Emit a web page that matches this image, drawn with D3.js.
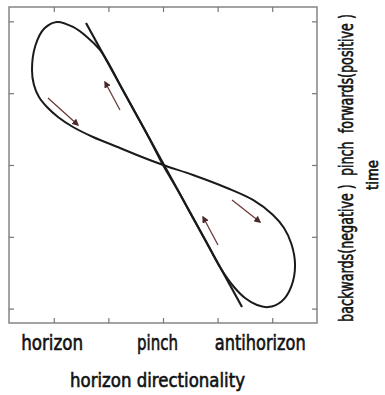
<!DOCTYPE html>
<html>
<head>
<meta charset="utf-8">
<script src="https://cdn.jsdelivr.net/npm/d3@7"></script>
<style>
  html, body { margin: 0; padding: 0; background: #fff; }
  svg { display: block; }
  text { font-family: "DejaVu Sans Condensed", "DejaVu Sans", sans-serif; fill: #111; stroke: #111; stroke-width: 0.6px; white-space: pre; }
</style>
</head>
<body>
<svg id="chart" width="385" height="395"></svg>
<script>
// Horizon directionality (x) vs. time (y): a figure-eight trajectory
const loopX = [0, -0.264, -0.515, -0.757, -0.971, -1.154, -1.392, -1.648, -1.941, -2.170,
  -2.339, -2.399, -2.363, -2.271, -2.125, -1.923, -1.648, -1.282, -0.788, -0.385,
  0, 0.549, 1.172, 1.648, 2.015, 2.216, 2.352, 2.418, 2.352, 2.170,
  1.923, 1.722, 1.502, 1.300, 1.053, 0.802, 0.520, 0.269];
const loopY = [0, 0.390, 0.738, 1.072, 1.379, 1.602, 1.783, 1.922, 1.992, 1.903,
  1.657, 1.323, 1.114, 0.947, 0.808, 0.669, 0.529, 0.390, 0.237, 0.111,
  0, -0.139, -0.320, -0.487, -0.696, -0.877, -1.100, -1.393, -1.685, -1.900,
  -1.978, -1.950, -1.852, -1.699, -1.435, -1.086, -0.696, -0.348];

// straight pinch line through the crossing point
const pinchLineX = [-1.410, 1.447];
const pinchLineY = [1.978, -1.978];

// direction-of-travel arrows
const arrowFromX = [-2.106, -0.788, 1.007, 1.264];
const arrowFromY = [0.933, 0.766, -1.114, -0.487];
const arrowToX = [-1.557, -1.062, 0.733, 1.777];
const arrowToY = [0.557, 1.156, -0.724, -0.794];

// frame ticks
const xTicks = [-2, -1, 0, 1, 2];
const yTicks = [-2, -1, 0, 1, 2];

// category labels along the horizontal axis
const xLabels = ["horizon", "pinch", "antihorizon"];
const xLabelAt = [-2.03, -0.1, 1.78];
const xLabelWidth = [62, 41, 91];

const xTitle = "horizon directionality";
const yTitle = "backwards(negative )  pinch  forwards(positive )";
const yTitle2 = "time";

const svg = d3.select("#chart");
const frameL = 9, frameR = 317, frameT = 7, frameB = 323;

const x = d3.scaleLinear().domain([-2.82, 2.82]).range([frameL, frameR]);
const y = d3.scaleLinear().domain([-2.2, 2.2]).range([frameB, frameT]);

// frame
svg.append("rect")
  .attr("x", frameL).attr("y", frameT)
  .attr("width", frameR - frameL).attr("height", frameB - frameT)
  .attr("fill", "none").attr("stroke", "#858585").attr("stroke-width", 1.5);

// inward ticks on all four sides
const tickLen = 5;
const axes = [
  d3.axisBottom(x).tickValues(xTicks), d3.axisTop(x).tickValues(xTicks),
  d3.axisRight(y).tickValues(yTicks), d3.axisLeft(y).tickValues(yTicks)
];
const pos = [[0, frameT], [0, frameB], [frameL, 0], [frameR, 0]];
axes.forEach((ax, i) => {
  const g = svg.append("g")
    .attr("transform", `translate(${pos[i][0]},${pos[i][1]})`)
    .call(ax.tickSize(tickLen).tickFormat(""));
  g.select(".domain").remove();
  g.selectAll(".tick line").attr("stroke", "#777").attr("stroke-width", 1.2);
});

// pinch line
svg.append("line")
  .attr("x1", x(pinchLineX[0])).attr("y1", y(pinchLineY[0]))
  .attr("x2", x(pinchLineX[1])).attr("y2", y(pinchLineY[1]))
  .attr("stroke", "#1c1c1c").attr("stroke-width", 2.2);

// figure-eight trajectory
const pts = loopX.map((v, i) => [x(v), y(loopY[i])]);
svg.append("path")
  .attr("d", d3.line().curve(d3.curveCatmullRomClosed.alpha(0.5))(pts))
  .attr("fill", "none").attr("stroke", "#1a1a1a").attr("stroke-width", 2);

// arrows
svg.append("defs").append("marker")
  .attr("id", "head").attr("viewBox", "0 0 10 10")
  .attr("refX", 8).attr("refY", 5)
  .attr("markerWidth", 7).attr("markerHeight", 7)
  .attr("markerUnits", "userSpaceOnUse")
  .attr("orient", "auto")
  .append("path").attr("d", "M0,0 L10,5 L0,10 z").attr("fill", "#4a2a28");

arrowFromX.forEach((v, i) => {
  svg.append("line")
    .attr("x1", x(v)).attr("y1", y(arrowFromY[i]))
    .attr("x2", x(arrowToX[i])).attr("y2", y(arrowToY[i]))
    .attr("stroke", "#6a3b37").attr("stroke-width", 1.3)
    .attr("marker-end", "url(#head)");
});

// condensed text: squeeze each label horizontally to its width
function narrowText(str, size, width, tx, ty, rot) {
  const t = svg.append("text")
    .attr("text-anchor", "middle")
    .attr("font-size", size)
    .text(str);
  const natural = t.node().getComputedTextLength();
  const k = width / natural;
  t.attr("transform", `translate(${tx},${ty})${rot ? " rotate(-90)" : ""} scale(${k},1)`);
  return t;
}

xLabels.forEach((s, i) => narrowText(s, 22, xLabelWidth[i], x(xLabelAt[i]), 350, false));
narrowText(xTitle, 20, 175, 157.5, 387, false);

// vertical titles on the right
narrowText(yTitle, 20, 308, 353, 168, true);
narrowText(yTitle2, 15, 30, 378, 175, true);
</script>
</body>
</html>
